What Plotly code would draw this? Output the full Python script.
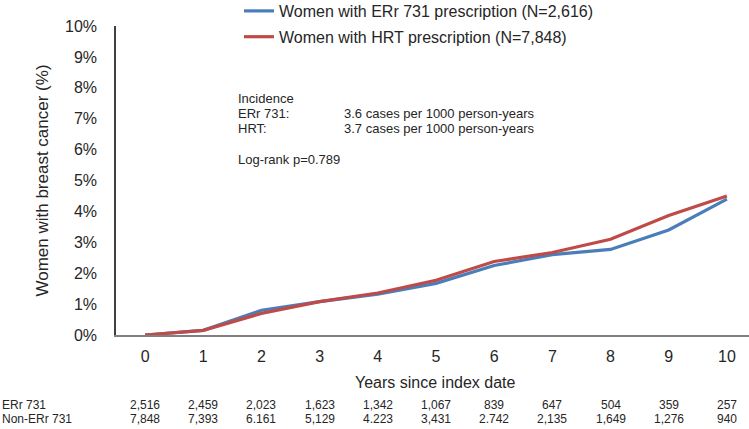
import plotly.graph_objects as go

years = list(range(11))
err731_pct = [0.0, 0.15, 0.80, 1.08, 1.32, 1.67, 2.25, 2.60, 2.77, 3.40, 4.40]
hrt_pct = [0.0, 0.15, 0.70, 1.08, 1.36, 1.77, 2.38, 2.67, 3.10, 3.87, 4.50]
at_risk_err = ["2,516", "2,459", "2,023", "1,623", "1,342", "1,067", "839", "647", "504", "359", "257"]
at_risk_non = ["7,848", "7,393", "6.161", "5,129", "4.223", "3,431", "2.742", "2,135", "1,649", "1,276", "940"]
y_ticks = list(range(0, 11))

BLUE = "#4a7ebb"
RED = "#be4b48"
TXT = "#262626"
FONT = "Liberation Sans, Arial, sans-serif"

fig = go.Figure()
fig.add_trace(go.Scatter(x=years, y=err731_pct, mode="lines", line=dict(color=BLUE, width=3.2),
                         name="Women with ERr 731 prescription (N=2,616)", legendgroup="a"))
fig.add_trace(go.Scatter(x=years, y=hrt_pct, mode="lines", line=dict(color=RED, width=3.2),
                         name="Women with HRT prescription (N=7,848)", legendgroup="b"))

L, R, T, B = 116, 0, 26, 94
W, H = 749, 429
pw = W - L - R
ph = H - T - B

annotations = []
inc_lines = [
    ("Incidence", None, 98),
    ("ERr 731:", "3.6 cases per 1000 person-years", 114),
    ("HRT:", "3.7 cases per 1000 person-years", 129),
    ("Log-rank p=0.789", None, 159),
]
for lab, val, py in inc_lines:
    yp = 1 - (py - T) / ph
    annotations.append(dict(text=lab, xref="paper", yref="paper", x=(236 - L) / pw, y=yp,
                            xanchor="left", yanchor="middle", showarrow=False,
                            font=dict(size=13, color=TXT, family=FONT)))
    if val:
        annotations.append(dict(text=val, xref="paper", yref="paper", x=(342 - L) / pw, y=yp,
                                xanchor="left", yanchor="middle", showarrow=False,
                                font=dict(size=13, color=TXT, family=FONT)))

for label, row, py in [("ERr 731", at_risk_err, 405), ("Non-ERr 731", at_risk_non, 419)]:
    yp = 1 - (py - T) / ph
    annotations.append(dict(text=label, xref="paper", yref="paper", x=(0 - L) / pw, y=yp,
                            xanchor="left", yanchor="middle", showarrow=False,
                            font=dict(size=12, color=TXT, family=FONT)))
    for xv, v in zip(years, row):
        annotations.append(dict(text=v, xref="x", yref="paper", x=xv, y=yp,
                                xanchor="center", yanchor="middle", showarrow=False,
                                font=dict(size=12, color=TXT, family=FONT)))

annotations.append(dict(text="Years since index date", xref="x", yref="paper", x=5, y=1 - (382 - T) / ph,
                        xanchor="center", yanchor="middle", showarrow=False,
                        font=dict(size=16, color=TXT, family=FONT)))

fig.update_layout(
    width=W, height=H,
    margin=dict(l=L, r=R, t=T, b=B, autoexpand=False),
    paper_bgcolor="white", plot_bgcolor="white",
    font=dict(family=FONT, color=TXT),
    showlegend=True,
    legend=dict(x=(239 - L) / pw, y=1 + (T + 6) / ph, xanchor="left", yanchor="top",
                font=dict(size=16, color=TXT, family=FONT), bgcolor="rgba(0,0,0,0)",
                tracegroupgap=2, itemwidth=30),
    annotations=annotations,
    xaxis=dict(range=[-0.5, 10.38], tickvals=years, ticktext=[str(v) for v in years],
               showgrid=False, zeroline=False, showline=True, linecolor="#808080", linewidth=1.5,
               ticks="", tickfont=dict(size=16, color=TXT, family=FONT), ticklabelstandoff=6),
    yaxis=dict(range=[0, 10], tickvals=y_ticks, ticktext=[f"{v}%" for v in y_ticks],
               showgrid=False, zeroline=False, showline=True, linecolor="#404040", linewidth=1.5,
               ticks="", tickfont=dict(size=16, color=TXT, family=FONT), ticklabelstandoff=14,
               title=dict(text="Women with breast cancer (%)", font=dict(size=17, color=TXT, family=FONT),
                          standoff=12)),
)

fig.write_html("out.html")
